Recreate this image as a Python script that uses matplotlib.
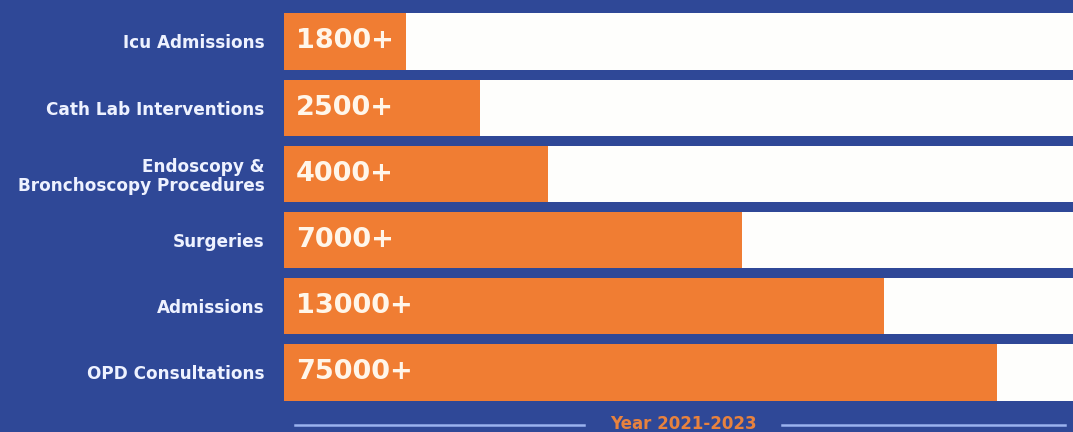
import matplotlib.pyplot as plt

#dados do gráfico (de cima para baixo)
categorias = ['Icu Admissions', 'Cath Lab Interventions',
              'Endoscopy &\nBronchoscopy Procedures', 'Surgeries',
              'Admissions', 'OPD Consultations']
rotulos = ['1800+', '2500+', '4000+', '7000+', '13000+', '75000+']
#preenchimento laranja (fração da trilha branca)
preenchimento = [0.155, 0.248, 0.335, 0.581, 0.760, 0.904]
periodo = 'Year 2021-2023'

#cores
azul = '#2F4897'
laranja = '#F07D33'
branco = '#FEFEFC'
texto_claro = '#EEF2FF'

plt.rcParams['font.family'] = ['DejaVu Sans']

fig = plt.figure(figsize=(10.73, 4.32), dpi=100)
fig.patch.set_facecolor(azul)

ax = fig.add_axes([284 / 1073, 0, 1 - 284 / 1073, 1])
ax.set_facecolor(azul)

y = list(range(len(categorias)))
altura = 0.85

#trilha branca + barra laranja
ax.barh(y, [1.0] * len(y), height=altura, color=branco, left=0)
ax.barh(y, preenchimento, height=altura, color=laranja, left=0)

for i, r in enumerate(rotulos):
    ax.text(0.015, i, r, va='center', ha='left', fontsize=19.5,
            fontweight='bold', color='#FFF6EA')

ax.set_xlim(0, 1)
ax.set_ylim(5.9, -0.627)
ax.set_yticks(y)
ax.set_yticklabels(categorias, fontsize=12.2, fontweight='bold',
                   color=texto_claro, linespacing=1.05)
ax.tick_params(axis='y', length=0, pad=14)
ax.set_xticks([])
for s in ax.spines.values():
    s.set_visible(False)

#rodapé com o período
fig.text(683 / 1073, 1 - 424 / 432, periodo, ha='center', va='center',
         fontsize=12, fontweight='bold', color='#E8823E')
fig.add_artist(plt.Line2D([295 / 1073, 584 / 1073], [1 - 425 / 432] * 2,
                          color='#9AB2EE', lw=1.8))
fig.add_artist(plt.Line2D([782 / 1073, 1065 / 1073], [1 - 425 / 432] * 2,
                          color='#9AB2EE', lw=1.8))

fig.savefig('out.png', dpi=100, facecolor=azul)
